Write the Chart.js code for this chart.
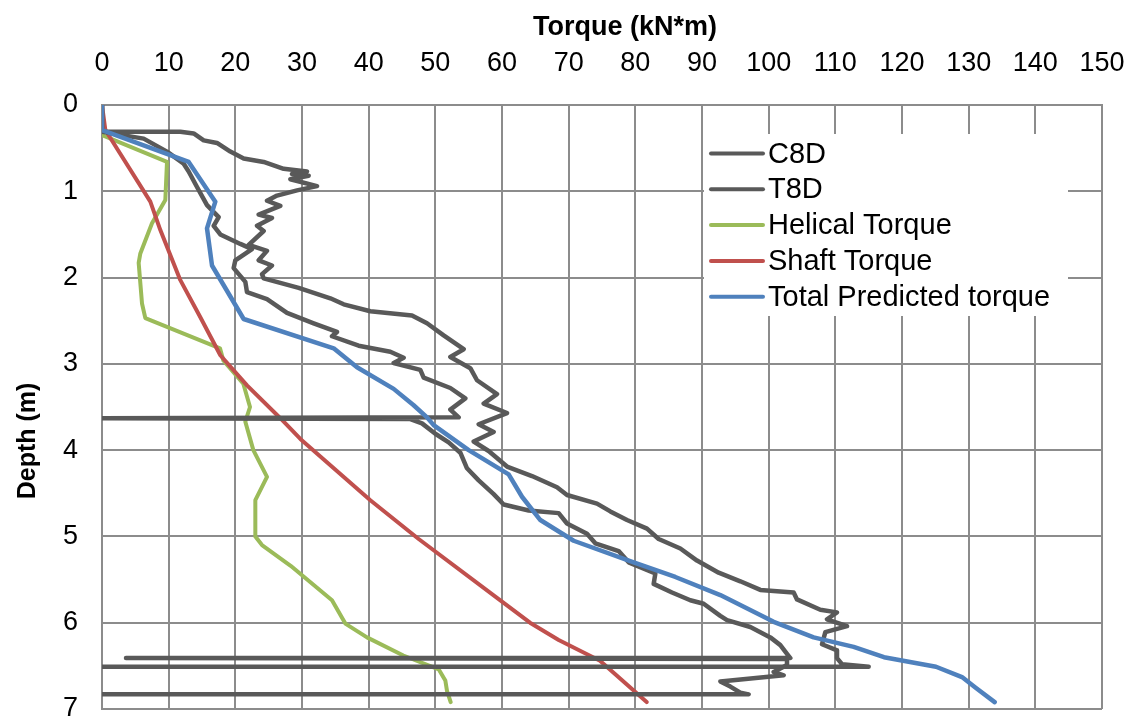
<!doctype html>
<html lang="en">
<head>
<meta charset="utf-8">
<title>Torque vs Depth</title>
<script src="https://cdn.jsdelivr.net/npm/chart.js@4.4.0/dist/chart.umd.min.js"></script>
<style>
  body { margin: 0; background: #fff; }
  #wrap { width: 1131px; height: 719px; }
</style>
</head>
<body>
<div id="wrap"><canvas id="chart" width="1131" height="719"></canvas></div>
<script>
// torque (kN*m), depth (m) pairs
var c8d = [[0,0],[0,0.31],[11.75,0.31],[13.75,0.33],[15.25,0.41],[17.25,0.44],[19.25,0.54],[21.25,0.62],[24.25,0.66],
  [27.25,0.74],[30.75,0.77],[28.5,0.8],[31,0.82],[28.25,0.86],[32.25,0.94],[29.25,0.99],[26.25,1.05],[24.75,1.11],
  [26.75,1.17],[23.5,1.27],[25.5,1.31],[23.25,1.4],[24.25,1.46],[22,1.62],[24.75,1.69],[23.5,1.8],[25.5,1.86],[24,1.96],
  [24.25,2.01],[29.5,2.12],[34.25,2.24],[36.25,2.31],[40.25,2.39],[46.5,2.44],[48.75,2.53],[51.25,2.67],[54.25,2.83],
  [52.25,2.92],[55.25,3.05],[56.25,3.19],[59.25,3.35],[57.25,3.46],[60.75,3.57],[56.5,3.7],[58.75,3.79],[55.75,3.9],
  [58,4.01],[60.75,4.19],[64.5,4.3],[68.25,4.43],[69.75,4.52],[74.25,4.62],[76.25,4.71],[78.75,4.81],[81.75,4.91],
  [83.5,5.03],[86.75,5.14],[89.25,5.28],[92.5,5.42],[95.75,5.52],[98.75,5.62],[103.75,5.65],[104.25,5.73],[107.75,5.85],
  [110.25,5.88],[108.75,5.96],[111.75,6.04],[108.5,6.11],[108,6.25],[110.25,6.32],[110.25,6.41],[111,6.48],[115,6.51],[0,6.51]];

var t8d = [[0,0],[0,0.31],[6.25,0.39],[9.75,0.54],[12.25,0.68],[13,0.77],[14.25,0.95],[15.75,1.16],[17.5,1.3],[16.75,1.4],
  [17.75,1.5],[20.75,1.61],[22.5,1.67],[20,1.8],[19.75,1.89],[21.5,2.05],[21.75,2.17],[24.75,2.25],[27.75,2.41],[31.75,2.53],
  [35.25,2.63],[34.5,2.68],[38.5,2.79],[43.25,2.86],[45.25,2.93],[43.75,2.99],[47.75,3.07],[48.25,3.16],[52.25,3.28],
  [54.5,3.4],[52.25,3.53],[53.5,3.62],[0,3.63],[46.25,3.64],[48,3.69],[50,3.81],[52,3.91],[53.75,4.03],[54.75,4.21],
  [56.5,4.35],[58.75,4.51],[60.25,4.63],[64,4.7],[68.5,4.73],[69.75,4.85],[72.75,4.97],[74,5.08],[77.5,5.17],[79,5.3],
  [83,5.43],[82.75,5.55],[85.5,5.65],[88.25,5.74],[90.25,5.78],[92.75,5.92],[93.75,5.97],[97.25,6.05],[100.25,6.17],
  [101.75,6.26],[102.75,6.36],[103.25,6.41],[3.6,6.41],[102.75,6.42],[102.75,6.49],[100.75,6.57],[102.25,6.61],
  [92.75,6.68],[94.25,6.74],[95.75,6.81],[97,6.83],[0,6.83]];

var helical = [[0,0],[0,0.35],[9.75,0.66],[9.5,1.1],[7.5,1.37],[5.75,1.72],[5.5,1.83],[6,2.3],[6.5,2.47],[17.7,2.82],
  [18.2,2.96],[21.2,3.23],[22.2,3.5],[21.5,3.67],[22.7,4.0],[24.75,4.31],[23,4.58],[23,5.0],[24,5.1],[28.3,5.34],
  [34.5,5.74],[36.5,6.01],[39.75,6.17],[45.2,6.38],[50.5,6.54],[51.5,6.67],[51.75,6.79],[52.3,6.92]];

var shaft = [[0,0],[0.5,0.29],[7.25,1.12],[8.75,1.45],[11.75,2.03],[14.75,2.46],[17.75,2.9],[21.75,3.25],[26.75,3.63],
  [29.75,3.87],[40.25,4.58],[47.5,5.03],[59.75,5.74],[64.2,6.0],[68.5,6.2],[74.7,6.44],[81.7,6.92]];

var total = [[0,0],[0,0.29],[13,0.66],[17,1.12],[15.75,1.43],[16.5,1.86],[21.25,2.48],[34.75,2.82],[38.25,3.04],
  [43.75,3.29],[46.75,3.48],[48.75,3.62],[49.75,3.71],[55,4.0],[61,4.28],[63,4.54],[65.75,4.81],[70.75,5.05],
  [79.75,5.3],[86,5.47],[92.75,5.68],[100.75,5.99],[106.75,6.17],[112.75,6.28],[117.3,6.4],[125.1,6.51],
  [129,6.63],[131,6.75],[133.9,6.92]];

var xTicks = [0, 150, 10];
var yTicks = [0, 7, 1];

function pts(a) { return a.map(function (p) { return { x: p[0], y: p[1] }; }); }

var FONT = '"Liberation Sans", Arial, sans-serif';

function serie(label, d, color, w, order) {
  return {
    label: label, data: pts(d), borderColor: color, backgroundColor: color, borderWidth: w,
    showLine: true, pointRadius: 0, tension: 0, borderCapStyle: 'round', borderJoinStyle: 'round', order: order
  };
}

// axis titles + legend drawn by hand so they sit where they do in the original
var extras = {
  id: 'extras',
  afterDraw: function (chart) {
    var ctx = chart.ctx;
    ctx.save();
    ctx.fillStyle = '#000';
    ctx.textAlign = 'center';
    ctx.textBaseline = 'middle';
    ctx.font = 'bold 27px ' + FONT;
    ctx.fillText('Torque (kN*m)', 625, 28);
    ctx.translate(28, 441);
    ctx.rotate(-Math.PI / 2);
    ctx.font = 'bold 25px ' + FONT;
    ctx.fillText('Depth (m)', 0, 0);
    ctx.restore();

    ctx.save();
    ctx.fillStyle = '#fff';
    ctx.fillRect(704, 134, 364, 182);
    var names = ['C8D', 'T8D', 'Helical Torque', 'Shaft Torque', 'Total Predicted torque'];
    ctx.font = '29px ' + FONT;
    ctx.textAlign = 'left';
    ctx.textBaseline = 'middle';
    names.forEach(function (name, k) {
      var ds = chart.data.datasets[k];
      var y = 153.5 + k * 35.8;
      ctx.strokeStyle = ds.borderColor;
      ctx.lineWidth = 4;
      ctx.lineCap = 'round';
      ctx.beginPath();
      ctx.moveTo(711, y);
      ctx.lineTo(763, y);
      ctx.stroke();
      ctx.fillStyle = '#000';
      ctx.fillText(name, 768, y + 1);
    });
    ctx.restore();
  }
};

new Chart(document.getElementById('chart').getContext('2d'), {
  type: 'scatter',
  data: {
    datasets: [
      serie('C8D', c8d, '#595959', 4.5, 1),
      serie('T8D', t8d, '#595959', 4.5, 2),
      serie('Helical Torque', helical, '#9BBB59', 4, 4),
      serie('Shaft Torque', shaft, '#C0504D', 4, 3),
      serie('Total Predicted torque', total, '#4F81BD', 4.5, 0)
    ]
  },
  options: {
    responsive: false,
    animation: false,
    layout: { padding: { left: 0, top: 0, right: 29, bottom: 10 } },
    plugins: { legend: { display: false }, tooltip: { enabled: false } },
    scales: {
      x: {
        type: 'linear', position: 'top', min: xTicks[0], max: xTicks[1],
        afterFit: function (s) { s.height = 105; s.paddingLeft = 0; s.paddingRight = 0; },
        ticks: { stepSize: xTicks[2], color: '#000', font: { family: FONT, size: 27 }, padding: 25, maxRotation: 0 },
        grid: { color: '#8c8c8c', lineWidth: 2, drawTicks: false },
        border: { color: '#8c8c8c', width: 2 }
      },
      y: {
        type: 'linear', reverse: true, min: yTicks[0], max: yTicks[1],
        afterFit: function (s) { s.width = 102; s.paddingTop = 0; s.paddingBottom = 0; },
        ticks: { stepSize: yTicks[2], color: '#000', font: { family: FONT, size: 27 }, padding: 24 },
        grid: { color: '#8c8c8c', lineWidth: 2, drawTicks: false },
        border: { color: '#8c8c8c', width: 2 }
      }
    }
  },
  plugins: [extras]
});
</script>
</body>
</html>
